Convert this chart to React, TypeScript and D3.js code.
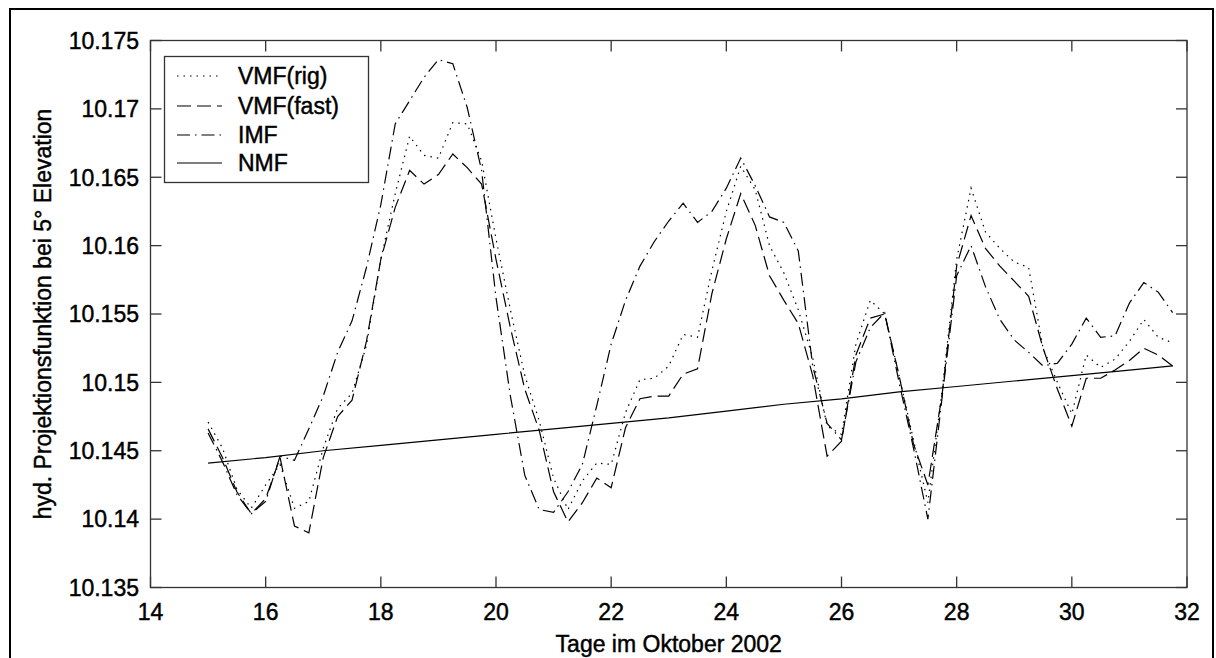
import React from 'react';
import * as d3 from 'd3';

const X_TICKS = [14, 16, 18, 20, 22, 24, 26, 28, 30, 32];
const Y_TICKS = [10.135, 10.14, 10.145, 10.15, 10.155, 10.16, 10.165, 10.17, 10.175];
const Y_TICK_LABELS = ['10.135', '10.14', '10.145', '10.15', '10.155', '10.16', '10.165', '10.17', '10.175'];

const SAMPLE_START = 15;
const SAMPLE_STEP = 0.25;

const VMF_RIG = [
  10.1471, 10.1452, 10.1422, 10.1408, 10.1425, 10.1440, 10.1408, 10.1413,
  10.1452, 10.1481, 10.1492, 10.1527, 10.1590, 10.1638, 10.1680, 10.1666,
  10.1664, 10.1690, 10.1689, 10.1662, 10.1605, 10.1553, 10.1505, 10.1472,
  10.1430, 10.1407, 10.1428, 10.1441, 10.1440, 10.1478, 10.1502, 10.1503,
  10.1512, 10.1535, 10.1533, 10.1582, 10.1625, 10.1658, 10.1641, 10.1600,
  10.1580, 10.1553, 10.1518, 10.1468, 10.1462, 10.1528, 10.1560, 10.1550,
  10.1505, 10.1458, 10.1412, 10.1495, 10.1590, 10.1642, 10.1610, 10.1598,
  10.1588, 10.1584, 10.1525, 10.1500, 10.1477, 10.1520, 10.1511, 10.1517,
  10.1530, 10.1546, 10.1533, 10.1529,
];

const VMF_FAST = [
  10.1466, 10.1445, 10.1420, 10.1404, 10.1415, 10.1445, 10.1395, 10.1390,
  10.1445, 10.1475, 10.1487, 10.1530, 10.1590, 10.1628, 10.1655, 10.1645,
  10.1652, 10.1667, 10.1657, 10.1645, 10.1590, 10.1540, 10.1495, 10.1465,
  10.1420, 10.1398, 10.1412, 10.1430, 10.1423, 10.1467, 10.1488, 10.1490,
  10.1490, 10.1506, 10.1510, 10.1565, 10.1605, 10.1638, 10.1615, 10.1578,
  10.1560, 10.1543, 10.1505, 10.1446, 10.1457, 10.1520, 10.1547, 10.1550,
  10.1505, 10.1455, 10.1425, 10.1492, 10.1585, 10.1622, 10.1598, 10.1585,
  10.1574, 10.1563, 10.1525, 10.1495, 10.1468, 10.1503, 10.1503, 10.1509,
  10.1516, 10.1525, 10.1520, 10.1512,
];

const IMF = [
  10.1463, 10.1442, 10.1418, 10.1404, 10.1413, 10.1446, 10.1443, 10.1466,
  10.1490, 10.1522, 10.1545, 10.1584, 10.1630, 10.1689, 10.1706, 10.1723,
  10.1736, 10.1733, 10.1701, 10.1655, 10.1562, 10.1490, 10.1432, 10.1407,
  10.1405, 10.1420, 10.1440, 10.1483, 10.1528, 10.1560, 10.1585, 10.1603,
  10.1618, 10.1631, 10.1617, 10.1625, 10.1642, 10.1664, 10.1644, 10.1621,
  10.1617, 10.1596, 10.1512, 10.1470, 10.1458, 10.1515, 10.1540, 10.1551,
  10.1500, 10.1452, 10.1400, 10.1490, 10.1578, 10.1600, 10.1570, 10.1546,
  10.1531, 10.1522, 10.1512, 10.1514, 10.1528, 10.1547, 10.1533, 10.1534,
  10.1558, 10.1573, 10.1566, 10.1551,
];

const NMF_DAYS = [15, 16, 17, 18, 19, 20, 21, 22, 23, 24, 25, 26, 27, 28, 29, 30, 31, 31.75];
const NMF = [
  10.1441, 10.1445, 10.1450, 10.1454, 10.1458, 10.1462, 10.1466, 10.1470, 10.1474,
  10.1479, 10.1484, 10.1488, 10.1493, 10.1497, 10.1501, 10.1505, 10.1509, 10.1512,
];

const SERIES_NAMES = ['VMF(rig)', 'VMF(fast)', 'IMF', 'NMF'];
const X_TITLE = 'Tage im Oktober 2002';
const Y_TITLE = 'hyd. Projektionsfunktion bei 5° Elevation';

const W = 1216;
const H = 658;
const PLOT = { left: 150.5, right: 1187, top: 40.5, bottom: 587.5 };
const FONT = '"Liberation Sans", Arial, Helvetica, sans-serif';
const FS = 23;
const AXIS_COLOR = '#333';
const TICK = 11;
const TEXT_STROKE = 0.45;

const DASHES = ['1.5 5', '14 6', '13 5 1.5 5', 'none'];

export default function App() {
  const x = d3.scaleLinear().domain([14, 32]).range([PLOT.left, PLOT.right]);
  const y = d3.scaleLinear().domain([10.135, 10.175]).range([PLOT.bottom, PLOT.top]);

  const sampled = (vals: number[]) => vals.map((v, i) => [SAMPLE_START + i * SAMPLE_STEP, v] as [number, number]);
  const line = d3.line<[number, number]>().x((d) => x(d[0])).y((d) => y(d[1]));

  const seriesData: [number, number][][] = [
    sampled(VMF_RIG),
    sampled(VMF_FAST),
    sampled(IMF),
    NMF_DAYS.map((d, i) => [d, NMF[i]] as [number, number]),
  ];

  const legend = { x: 164.5, y: 56.5, w: 204, h: 126 };
  const legendRows = [76, 106, 135, 163];

  const textProps = { fontSize: FS, fill: '#000', stroke: '#000', strokeWidth: TEXT_STROKE };

  return (
    <svg
      width={W}
      height={H}
      style={{ position: 'absolute', left: 0, top: 0, background: '#fff' }}
      fontFamily={FONT}
    >
      <rect x={0} y={0} width={W} height={H} fill="#fff" />
      <rect x={10} y={9} width={1203} height={700} fill="none" stroke="#000" strokeWidth={2} />

      <g>
        {seriesData.map((d, i) => (
          <path
            key={SERIES_NAMES[i]}
            d={line(d) || ''}
            fill="none"
            stroke="#000"
            strokeWidth={1.2}
            strokeDasharray={DASHES[i] === 'none' ? undefined : DASHES[i]}
          />
        ))}
      </g>

      <rect
        x={PLOT.left}
        y={PLOT.top}
        width={PLOT.right - PLOT.left}
        height={PLOT.bottom - PLOT.top}
        fill="none"
        stroke={AXIS_COLOR}
        strokeWidth={1.3}
      />
      {X_TICKS.map((t) => (
        <g key={'xt' + t}>
          <line x1={x(t)} x2={x(t)} y1={PLOT.bottom} y2={PLOT.bottom - TICK} stroke={AXIS_COLOR} strokeWidth={1.3} />
          <line x1={x(t)} x2={x(t)} y1={PLOT.top} y2={PLOT.top + TICK} stroke={AXIS_COLOR} strokeWidth={1.3} />
          <text x={x(t)} y={620} textAnchor="middle" {...textProps}>
            {t}
          </text>
        </g>
      ))}
      {Y_TICKS.map((t, i) => (
        <g key={'yt' + t}>
          <line x1={PLOT.left} x2={PLOT.left + TICK} y1={y(t)} y2={y(t)} stroke={AXIS_COLOR} strokeWidth={1.3} />
          <line x1={PLOT.right} x2={PLOT.right - TICK} y1={y(t)} y2={y(t)} stroke={AXIS_COLOR} strokeWidth={1.3} />
          <text x={139} y={y(t)} dy="0.36em" textAnchor="end" {...textProps}>
            {Y_TICK_LABELS[i]}
          </text>
        </g>
      ))}

      <text x={(PLOT.left + PLOT.right) / 2} y={652} textAnchor="middle" {...textProps}>
        {X_TITLE}
      </text>
      <text
        transform={`translate(51, ${(PLOT.top + PLOT.bottom) / 2}) rotate(-90)`}
        textAnchor="middle"
        {...textProps}
      >
        {Y_TITLE}
      </text>

      <rect x={legend.x} y={legend.y} width={legend.w} height={legend.h} fill="#fff" stroke={AXIS_COLOR} strokeWidth={1.3} />
      {SERIES_NAMES.map((name, i) => (
        <g key={'lg' + name}>
          <line
            x1={177}
            x2={222}
            y1={legendRows[i]}
            y2={legendRows[i]}
            stroke="#000"
            strokeWidth={1.2}
            strokeDasharray={DASHES[i] === 'none' ? undefined : DASHES[i]}
          />
          <text x={238} y={legendRows[i]} dy="0.36em" {...textProps}>
            {name}
          </text>
        </g>
      ))}
    </svg>
  );
}
